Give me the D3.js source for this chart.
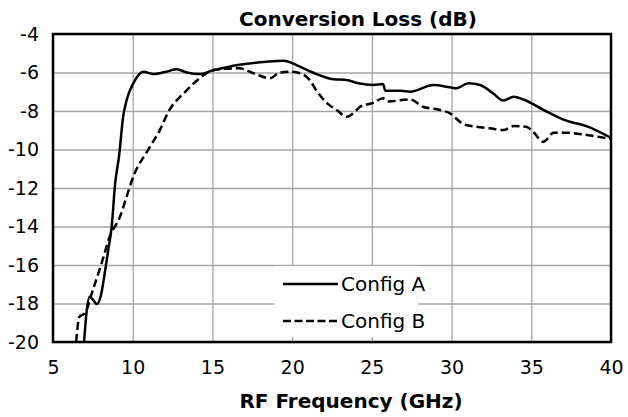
<!DOCTYPE html>
<html>
<head>
<meta charset="utf-8">
<script src="https://cdn.jsdelivr.net/npm/d3@7"></script>
<style>
  body { margin: 0; background: #fff; }
  svg { font-family: "DejaVu Sans", sans-serif; }
</style>
</head>
<body>
<div class="canvas"></div>
<script>
// series data
const freqA = [6.95, 7.1, 7.3, 7.5, 7.75, 8.0, 8.25, 8.47, 8.68, 8.9, 9.15, 9.4, 9.62, 10.04, 10.67, 11.3, 12.1, 12.76, 13.4, 14.2, 15.0, 16.7, 18.4, 19.45, 20.5, 21.3, 22.6, 23.4, 24.15, 25.1, 25.7, 25.85, 26.8, 27.4, 28.86, 29.9, 30.3, 31.05, 31.8, 32.6, 33.25, 33.9, 34.5, 36.0, 37.2, 38.5, 40];
const lossA = [-20, -18.5, -17.65, -17.8, -18.03, -17.6, -16.4, -15.2, -14.0, -11.75, -10.3, -8.3, -7.43, -6.56, -5.96, -6.08, -5.96, -5.83, -6.0, -6.08, -5.9, -5.6, -5.44, -5.39, -5.7, -6.0, -6.35, -6.39, -6.56, -6.65, -6.6, -6.95, -6.95, -7.0, -6.65, -6.77, -6.82, -6.56, -6.65, -7.08, -7.46, -7.26, -7.4, -8.04, -8.5, -8.8, -9.4];

const freqB = [6.45, 6.65, 7.0, 7.5, 8.05, 8.57, 9.2, 9.62, 10.04, 10.98, 11.7, 12.3, 13.2, 14.2, 15.05, 16.7, 17.57, 18.6, 19.24, 19.87, 20.5, 21.1, 21.5, 22.2, 22.8, 23.42, 24.05, 24.26, 25.1, 25.7, 26.04, 27.4, 28.2, 29.28, 29.9, 30.74, 31.58, 32.4, 33.25, 33.9, 34.7, 35.1, 35.75, 36.4, 37.2, 38.5, 40];
const lossB = [-20, -18.7, -18.5, -17.3, -15.9, -14.5, -13.5, -12.45, -11.4, -10.0, -8.99, -7.95, -7.08, -6.3, -5.87, -5.78, -6.04, -6.3, -6.0, -5.96, -6.04, -6.39, -6.91, -7.6, -7.95, -8.3, -7.95, -7.78, -7.57, -7.34, -7.5, -7.4, -7.78, -7.95, -8.12, -8.68, -8.82, -8.9, -8.99, -8.78, -8.82, -9.07, -9.6, -9.13, -9.13, -9.25, -9.45];

const xTicks = [5, 10, 15, 20, 25, 30, 35, 40];
const yTicks = [-4, -6, -8, -10, -12, -14, -16, -18, -20];
const seriesNames = ['Config A', 'Config B'];

const width = 628, height = 417;
const margin = { top: 34, right: 17, bottom: 75, left: 53 };
const fontSize = 19;

const svg = d3.select('.canvas')
  .append('svg')
  .attr('width', width)
  .attr('height', height);

const x = d3.scaleLinear().domain([5, 40]).range([margin.left, width - margin.right]);
const y = d3.scaleLinear().domain([-20, -4]).range([height - margin.bottom, margin.top]);

// gridlines
svg.append('g')
  .attr('transform', `translate(0, ${height - margin.bottom})`)
  .call(d3.axisBottom(x).tickValues(xTicks).tickSize(-(height - margin.top - margin.bottom)).tickFormat(''))
  .call(g => g.select('.domain').remove())
  .call(g => g.selectAll('line').attr('stroke', '#a6a6a6').attr('stroke-width', 1.3));

svg.append('g')
  .attr('transform', `translate(${margin.left}, 0)`)
  .call(d3.axisLeft(y).tickValues(yTicks).tickSize(-(width - margin.left - margin.right)).tickFormat(''))
  .call(g => g.select('.domain').remove())
  .call(g => g.selectAll('line').attr('stroke', '#a6a6a6').attr('stroke-width', 1.3));

// tick labels (plain hyphen minus like the original)
svg.append('g')
  .attr('transform', `translate(0, ${height - margin.bottom})`)
  .call(d3.axisBottom(x).tickValues(xTicks).tickSize(0).tickPadding(19).tickFormat(d => String(d)))
  .call(g => g.select('.domain').remove())
  .call(g => g.selectAll('text').attr('font-size', fontSize).attr('fill', '#000').attr('font-family', '"DejaVu Sans", sans-serif'));

svg.append('g')
  .attr('transform', `translate(${margin.left}, 0)`)
  .call(d3.axisLeft(y).tickValues(yTicks).tickSize(0).tickPadding(14).tickFormat(d => String(d)))
  .call(g => g.select('.domain').remove())
  .call(g => g.selectAll('text').attr('font-size', fontSize).attr('fill', '#000').attr('font-family', '"DejaVu Sans", sans-serif'));

// legend background (covers the gridlines)
const legend = svg.append('g');
legend.append('rect')
  .attr('x', 274).attr('y', 266)
  .attr('width', 144).attr('height', 71)
  .attr('fill', '#fff');

// series
svg.append('clipPath').attr('id', 'plot')
  .append('rect')
  .attr('x', margin.left).attr('y', margin.top)
  .attr('width', width - margin.left - margin.right)
  .attr('height', height - margin.top - margin.bottom);

const line = d3.line()
  .x(d => x(d[0]))
  .y(d => y(d[1]))
  .curve(d3.curveMonotoneX);

const series = [
  { name: seriesNames[0], pts: d3.zip(freqA, lossA), dash: null },
  { name: seriesNames[1], pts: d3.zip(freqB, lossB), dash: '8,4' }
];

svg.append('g')
  .attr('clip-path', 'url(#plot)')
  .selectAll('path')
  .data(series)
  .join('path')
  .attr('d', d => line(d.pts))
  .attr('fill', 'none')
  .attr('stroke', '#000')
  .attr('stroke-width', 2.5)
  .attr('stroke-dasharray', d => d.dash);

// plot border
svg.append('rect')
  .attr('x', margin.left).attr('y', margin.top)
  .attr('width', width - margin.left - margin.right)
  .attr('height', height - margin.top - margin.bottom)
  .attr('fill', 'none')
  .attr('stroke', '#000')
  .attr('stroke-width', 2.5);

// legend entries
series.forEach((s, i) => {
  const ly = 284 + i * 37;
  legend.append('line')
    .attr('x1', 283).attr('x2', 338)
    .attr('y1', ly).attr('y2', ly)
    .attr('stroke', '#000')
    .attr('stroke-width', 2.5)
    .attr('stroke-dasharray', s.dash ? '8,3.5' : null);
  legend.append('text')
    .attr('x', 341).attr('y', ly)
    .attr('dy', '0.35em')
    .attr('font-size', 20)
    .text(s.name);
});

// titles
svg.append('text')
  .attr('x', 358)
  .attr('y', 26)
  .attr('text-anchor', 'middle')
  .attr('font-size', 20)
  .attr('font-weight', 'bold')
  .text('Conversion Loss (dB)');

svg.append('text')
  .attr('x', 351)
  .attr('y', 408)
  .attr('text-anchor', 'middle')
  .attr('font-size', 20)
  .attr('font-weight', 'bold')
  .text('RF Frequency (GHz)');
</script>
</body>
</html>
